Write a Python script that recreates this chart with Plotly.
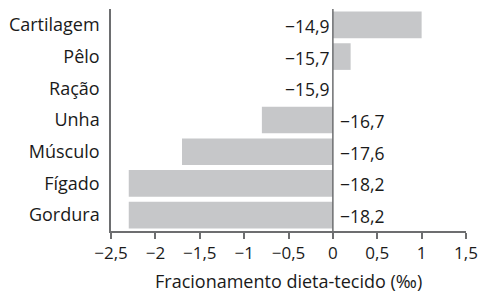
import plotly.graph_objects as go

categories = ["Cartilagem", "Pêlo", "Ração", "Unha", "Músculo", "Fígado", "Gordura"]
fractionation = [1.0, 0.2, 0.0, -0.8, -1.7, -2.3, -2.3]
tissue_labels = ["−14,9", "−15,7", "−15,9", "−16,7", "−17,6", "−18,2", "−18,2"]
tick_vals = [-2.5, -2, -1.5, -1, -0.5, 0, 0.5, 1, 1.5]
tick_text = ["−2,5", "−2", "−1,5", "−1", "−0,5", "0", "0,5", "1", "1,5"]
x_title = "Fracionamento dieta-tecido (‰)"

font_family = "Open Sans, Noto Sans, sans-serif"
axis_color = "#6d6e70"
text_color = "#1a1a1a"

fig = go.Figure()
fig.add_trace(go.Bar(
    y=categories, x=fractionation, orientation="h",
    marker=dict(color="#c6c7c9", line=dict(width=0)),
    width=0.84, hoverinfo="skip",
))

for cat, val, lab in zip(categories, fractionation, tissue_labels):
    right_side = val <= 0 and cat != "Ração"
    fig.add_annotation(x=0, y=cat, text=lab, showarrow=False,
                       xanchor="left" if right_side else "right",
                       xshift=5 if right_side else -1, yshift=-1,
                       font=dict(size=17.5, color=text_color, family=font_family))

fig.add_shape(type="line", x0=0, x1=0, y0=0, y1=1, xref="x", yref="paper",
              line=dict(color=axis_color, width=1.5))

fig.add_annotation(x=0.5, y=0, xref="paper", yref="paper", text=x_title,
                   showarrow=False, xanchor="center", yanchor="middle", yshift=-50,
                   borderpad=0,
                   font=dict(size=18, color=text_color, family=font_family))

fig.update_layout(
    width=486, height=294,
    margin=dict(l=111, r=20, t=9, b=63),
    paper_bgcolor="white", plot_bgcolor="white",
    showlegend=False,
    font=dict(family=font_family, size=17, color=text_color),
    xaxis=dict(
        range=[-2.5, 1.5], tickvals=tick_vals, ticktext=tick_text,
        showgrid=False, zeroline=False, showline=True, linecolor=axis_color, linewidth=1.5,
        ticks="outside", ticklen=6, tickcolor=axis_color, tickwidth=1.5,
        tickfont=dict(size=17), automargin=False,
        fixedrange=True,
    ),
    yaxis=dict(
        categoryorder="array", categoryarray=categories,
        range=[6.5, -0.5],
        showgrid=False, zeroline=False, showline=True, linecolor=axis_color, linewidth=1.5,
        ticks="", ticklabelstandoff=6, tickfont=dict(size=18), automargin=False,
        fixedrange=True,
    ),
)

fig.write_html("out.html", config={"displayModeBar": False},
               post_script="document.body.style.margin='0';document.body.style.overflow='hidden';")
